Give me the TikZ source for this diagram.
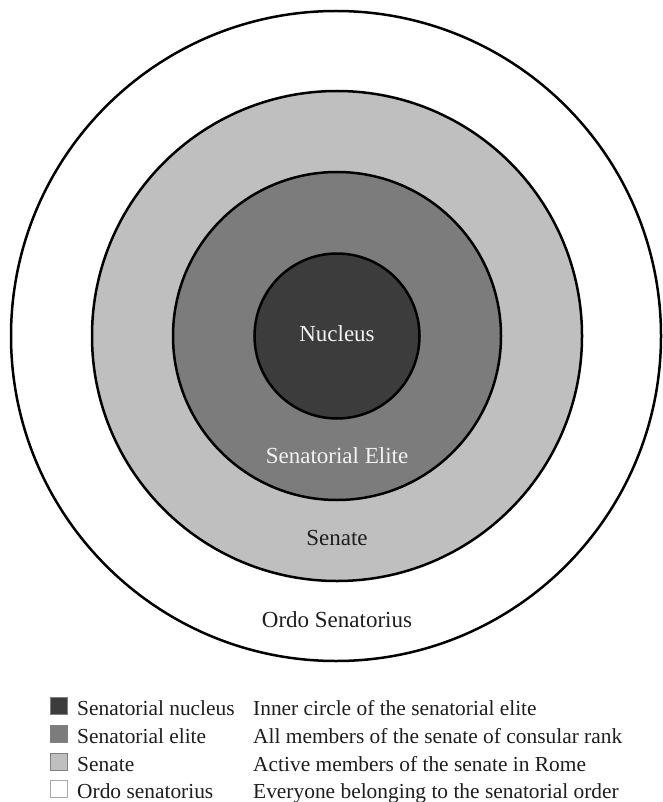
\documentclass[tikz,border=0pt]{standalone}
\usepackage{fontspec}
\setmainfont{Liberation Serif}
\definecolor{cnuc}{HTML}{3C3C3C}
\definecolor{celite}{HTML}{7C7C7C}
\definecolor{csen}{HTML}{BFBFBF}
\definecolor{lightt}{HTML}{F2F2F2}
\definecolor{darkt}{HTML}{1E1E1E}
\definecolor{wborder}{HTML}{A8A8A8}
\tikzset{
  ring/.style={draw=black, line width=2.5pt},
  clabel/.style={inner sep=0pt, font=\fontsize{23}{27}\selectfont},
  legtext/.style={anchor=base west, inner sep=0pt, font=\fontsize{21.4}{25}\selectfont, text=darkt},
  swatch/.style={draw=#1, line width=0.9pt, minimum width=17pt, minimum height=17pt, inner sep=0pt, anchor=south west}
}
\begin{document}
\begin{tikzpicture}[x=1pt,y=-1pt]
\useasboundingbox (0,0) rectangle (662,802);
\fill[white] (0,0) rectangle (662,802);
\coordinate (c) at (337,336);
\draw[ring, fill=white] (336,336) circle[radius=325];
\draw[ring, fill=csen] (c) circle[radius=245];
\draw[ring, fill=celite] (c) circle[radius=164];
\draw[ring, fill=cnuc] (c) circle[radius=82.5];
\node[clabel, text=lightt] (lnuc) at (337,334) {Nucleus};
\node[clabel, text=lightt] (lelite) at (337,456) {Senatorial Elite};
\node[clabel, text=darkt] (lsen) at (337,538) {Senate};
\node[clabel, text=darkt] (lordo) at (337,620) {Ordo Senatorius};
% legend
\node[swatch=gray, fill=cnuc] (s1) at (50,715) {};
\node[swatch=gray, fill=celite] (s2) at (50,743) {};
\node[swatch=gray, fill=csen] (s3) at (50,771) {};
\node[swatch=wborder, fill=white] (s4) at (50,798) {};
\node[legtext] (n1) at (77,715) {Senatorial nucleus};
\node[legtext] (n2) at (77,743) {Senatorial elite};
\node[legtext] (n3) at (77,771) {Senate};
\node[legtext] (n4) at (77,798) {Ordo senatorius};
\node[legtext] (d1) at (253,715) {Inner circle of the senatorial elite};
\node[legtext] (d2) at (253,743) {All members of the senate of consular rank};
\node[legtext] (d3) at (253,771) {Active members of the senate in Rome};
\node[legtext] (d4) at (253,798) {Everyone belonging to the senatorial order};
\end{tikzpicture}
\end{document}
